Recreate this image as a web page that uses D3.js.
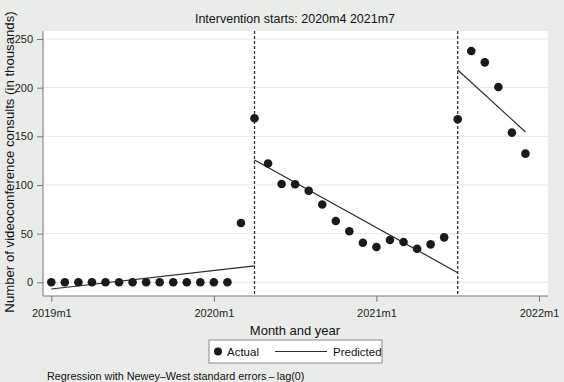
<!DOCTYPE html>
<html>
<head>
<meta charset="utf-8">
<script src="https://cdn.jsdelivr.net/npm/d3@7"></script>
<style>
  body { margin: 0; background: #eaecea; }
  svg { display: block; font-family: "Liberation Sans", Arial, sans-serif; }
</style>
</head>
<body>
<script>
// Data (month index 0 = 2019m1)
const months = ['2019m1','2019m2','2019m3','2019m4','2019m5','2019m6','2019m7','2019m8','2019m9','2019m10','2019m11','2019m12',
  '2020m1','2020m2','2020m3','2020m4','2020m5','2020m6','2020m7','2020m8','2020m9','2020m10','2020m11','2020m12',
  '2021m1','2021m2','2021m3','2021m4','2021m5','2021m6','2021m7','2021m8','2021m9','2021m10','2021m11','2021m12'];
const actual = [0,0,0,0,0,0,0,0,0,0,0,0,0,0,61,168.5,122,101,100.7,94,80,63,52.4,40.7,36.3,43.5,41.4,34.5,39,46.2,167.5,237.7,226,200.7,153.8,132.2];
const predStart = ['2019m1','2020m4','2021m7'];
const predEnd = ['2020m4','2021m7','2021m12'];
const predStartVal = [-6.9, 125.7, 218.2];
const predEndVal = [16.8, 9.9, 154.5];
const interventions = ['2020m4','2021m7'];
const xTickLabels = ['2019m1','2020m1','2021m1','2022m1'];
const yTicks = [0, 50, 100, 150, 200, 250];

const idx = s => { const [y, m] = s.split('m').map(Number); return (y - 2019) * 12 + (m - 1); };

const w = 564, h = 382;
const plot = { left: 43, right: 548, top: 31, bottom: 296 };

const svg = d3.select('body').append('svg').attr('width', w).attr('height', h);

const x = d3.scaleLinear().domain([0, 36]).range([51.3, 539]);
const y = d3.scaleLinear().domain([0, 250]).range([282.3, 39]);

// plot region
svg.append('rect')
  .attr('x', plot.left).attr('y', plot.top)
  .attr('width', plot.right - plot.left).attr('height', plot.bottom - plot.top)
  .attr('fill', '#fff');

// gridlines
svg.append('g').selectAll('line').data(yTicks).enter().append('line')
  .attr('x1', plot.left).attr('x2', plot.right)
  .attr('y1', d => y(d)).attr('y2', d => y(d))
  .attr('stroke', '#e4e6e4').attr('stroke-width', 1);

// axes
const yAxis = svg.append('g')
  .attr('transform', `translate(${plot.left},0)`)
  .call(d3.axisLeft(y).tickValues(yTicks).tickSize(6).tickPadding(4).tickSizeOuter(0));
yAxis.select('.domain').attr('d', `M0,${plot.top}V${plot.bottom}`);

const xAxis = svg.append('g')
  .attr('transform', `translate(0,${plot.bottom})`)
  .call(d3.axisBottom(x).tickValues(xTickLabels.map(idx)).tickFormat((d, i) => xTickLabels[i])
    .tickSize(6).tickPadding(7).tickSizeOuter(0));
xAxis.select('.domain').attr('d', `M${plot.left},0H${plot.right}`);

svg.selectAll('.domain, .tick line').attr('stroke', '#777');
svg.selectAll('.tick text').attr('font-size', 11).attr('fill', '#222')
  .attr('font-family', '"Liberation Sans", Arial, sans-serif');

// intervention lines
svg.append('g').selectAll('line').data(interventions).enter().append('line')
  .attr('x1', d => x(idx(d))).attr('x2', d => x(idx(d)))
  .attr('y1', plot.top).attr('y2', plot.bottom)
  .attr('stroke', '#333').attr('stroke-width', 1.3).attr('stroke-dasharray', '3,2');

// predicted segments
svg.append('g').selectAll('line').data(predStart).enter().append('line')
  .attr('x1', d => x(idx(d))).attr('x2', (d, i) => x(idx(predEnd[i])))
  .attr('y1', (d, i) => y(predStartVal[i])).attr('y2', (d, i) => y(predEndVal[i]))
  .attr('stroke', '#2a2a2a').attr('stroke-width', 1.2);

// actual points
svg.append('g').selectAll('circle').data(actual).enter().append('circle')
  .attr('cx', (d, i) => x(idx(months[i]))).attr('cy', d => y(d))
  .attr('r', 4.3).attr('fill', '#1a1a1a');

// titles
svg.append('text').attr('x', 295).attr('y', 23).attr('text-anchor', 'middle')
  .attr('font-size', 12.5).attr('fill', '#111').text('Intervention starts: 2020m4 2021m7');

svg.append('text').attr('transform', `translate(14,162) rotate(-90)`)
  .attr('text-anchor', 'middle').attr('font-size', 13.2).attr('fill', '#111')
  .text('Number of videoconference consults (in thousands)');

svg.append('text').attr('x', 295).attr('y', 335).attr('text-anchor', 'middle')
  .attr('font-size', 13).attr('fill', '#111').text('Month and year');

// legend
const lg = svg.append('g');
lg.append('rect').attr('x', 209).attr('y', 340).attr('width', 173).attr('height', 23)
  .attr('fill', '#fff').attr('stroke', '#888');
lg.append('circle').attr('cx', 218).attr('cy', 351.5).attr('r', 4).attr('fill', '#1a1a1a');
lg.append('text').attr('x', 227).attr('y', 355.5).attr('font-size', 11.5).attr('fill', '#111').text('Actual');
lg.append('line').attr('x1', 275).attr('x2', 327).attr('y1', 351.5).attr('y2', 351.5)
  .attr('stroke', '#2a2a2a').attr('stroke-width', 1.2);
lg.append('text').attr('x', 333).attr('y', 355.5).attr('font-size', 11.5).attr('fill', '#111').text('Predicted');

// footnote
svg.append('text').attr('x', 47).attr('y', 380).attr('font-size', 10.8).attr('fill', '#111')
  .text('Regression with Newey\u2013West standard errors\u2009\u2013\u2009lag(0)');
</script>
</body>
</html>
